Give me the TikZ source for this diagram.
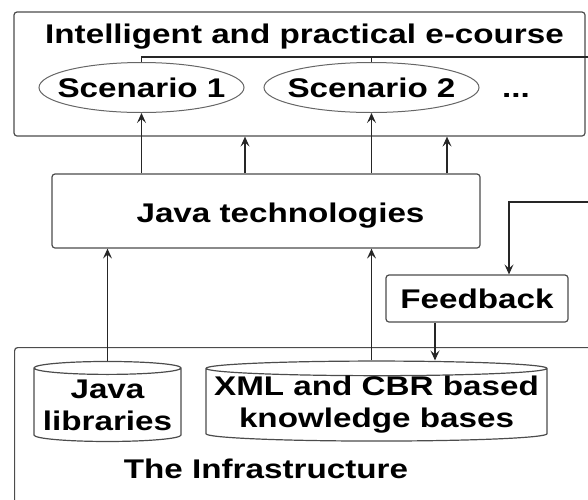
\documentclass[tikz,border=0pt]{standalone}
\usepackage{fontspec}
\setmainfont{Liberation Sans}[FakeStretch=1.23]
\usetikzlibrary{positioning,shapes.geometric,arrows.meta}
\begin{document}
\begin{tikzpicture}
    [%%%%%%%%%%%%%%%%%%%%%%%%%%%%%%%%%%%%%%%%%%%%%%%%%%%%%%%%%%
        x=1pt,y=-1pt,>={Stealth[length=10pt,width=9pt,inset=4pt]},
        font=\fontsize{27}{32}\selectfont\bfseries,
        box/.style={draw=black!70,line width=1.2pt,rounded corners=3pt,inner sep=0pt},
        scen/.style={ellipse,draw=black!60,line width=1pt,inner sep=0pt,minimum height=50},
        base/.style={cylinder,shape border rotate=90,draw=black!70,line width=1.2pt,
                     align=center,inner sep=0pt},
        link/.style={->,line width=1.3pt,draw=black!85}
    ]%%%%%%%%%%%%%%%%%%%%%%%%%%%%%%%%%%%%%%%%%%%%%%%%%%%%%%%%%%
    \useasboundingbox (0,0) rectangle (588,499);

    % upper part
    \node[box,minimum width=571,minimum height=124] (course) at (299.5,74) {};
    \node[anchor=base] (title) at (304.5,43) {Intelligent and practical e-course};
    \node[scen,minimum width=205,label=center:Scenario 1] (scen1) at (141.5,87.5) {};
    \node[scen,minimum width=215,label=center:Scenario 2] (scen2) at (371.5,87.5) {};
    \node[anchor=base] (more) at (516,97) {...};
    \coordinate (split) at (588,57);
    \draw[line width=1.2pt,draw=black!85] (scen1.north) |- (split);
    \draw[line width=1.2pt,draw=black!85] (scen2.north) -- (scen2.north |- split);

    % middle part
    \node[box,minimum width=428,minimum height=74] (java) at (266,211) {};
    \node[anchor=base] (javatxt) at (280.5,222) {Java technologies};
    \node[box,minimum width=182,minimum height=47] (fb) at (477,298.5) {Feedback};
    \coordinate (fbin) at (588,202);
    \coordinate (fbturn) at (509,202);

    % infrastructure
    \node[box,minimum width=600,minimum height=170,anchor=north west] (infra) at (14,347) {};
    \node[base,minimum width=147,minimum height=80,aspect=0.1] (lib) at (107.5,405) {Java\\libraries};
    \node[base,minimum width=341,minimum height=80,aspect=0.045] (kb) at (376.5,405)
        {XML and CBR based\\knowledge bases};
    \node[anchor=base] (infratxt) at (266,478) {The Infrastructure};

    \draw[link] (java.north -| scen1.south) -- (scen1.south);
    \draw[link] (java.north -| scen2.south) -- (scen2.south);
    \draw[link] ([xshift=-21pt]java.north) -- ([xshift=-21pt]java.north |- course.south);
    \draw[link] ([xshift=181pt]java.north) -- ([xshift=181pt]java.north |- course.south);
    \draw[link] (lib.north) -- (lib.north |- java.south);
    \draw[link] (kb.north -| scen2.south) -- (java.south -| scen2.south);
    \draw[link] (fbin) -- (fbturn) -- (fbturn |- fb.north);
    \draw[link] ([xshift=-42pt]fb.south) -- ([xshift=-42pt]fb.south |- kb.north);
\end{tikzpicture}
\end{document}
